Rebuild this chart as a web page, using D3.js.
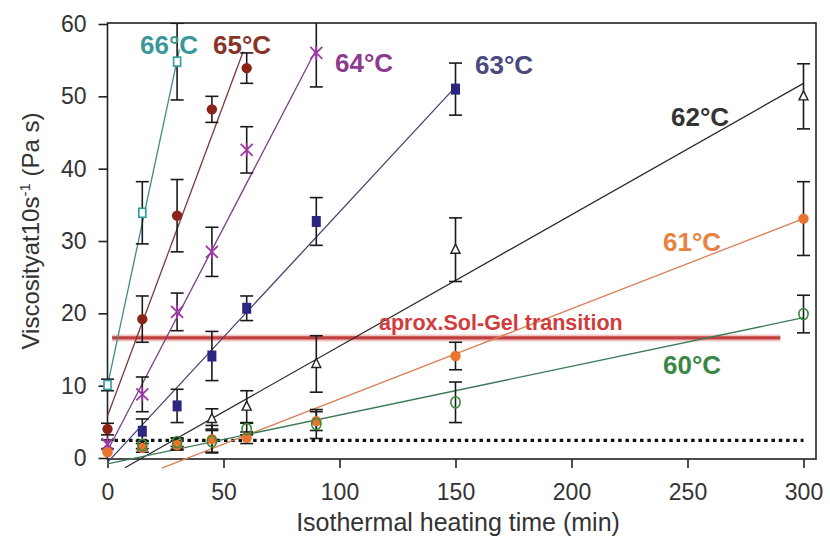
<!DOCTYPE html>
<html>
<head>
<meta charset="utf-8">
<script src="https://cdn.jsdelivr.net/npm/d3@7"></script>
<style>
  body { margin: 0; background: #fff; }
  svg { display: block; }
</style>
</head>
<body>
<svg id="chart" width="830" height="545"></svg>
<script>
// Viscosity at 10 s^-1 vs isothermal heating time, one series per holding temperature.
// Values: mean viscosity (Pa s); errors: +/- half-height of the error bar.

const xTicks = [0, 50, 100, 150, 200, 250, 300];
const yTicks = [0, 10, 20, 30, 40, 50, 60];

const t66 = [0, 15, 30];
const v66 = [10.1, 33.9, 54.8];
const e66 = [0.8, 4.3, 5.3];

const t65 = [0, 15, 30, 45, 60];
const v65 = [4.0, 19.2, 33.5, 48.2, 53.9];
const e65 = [0.8, 3.2, 5.0, 1.8, 2.1];

const t64 = [0, 15, 30, 45, 60, 90];
const v64 = [1.9, 8.8, 20.2, 28.5, 42.6, 56.0];
const e64 = [0.6, 2.4, 2.6, 3.4, 3.2, 4.7];

const t63 = [15, 30, 45, 60, 90, 150];
const v63 = [3.7, 7.2, 14.1, 20.7, 32.7, 51.0];
const e63 = [1.7, 2.3, 3.4, 1.7, 3.3, 3.6];

const t62 = [15, 30, 45, 60, 90, 150, 300];
const v62 = [1.6, 1.9, 5.4, 7.1, 13.0, 28.8, 50.0];
const e62 = [0.8, 0.8, 1.4, 2.2, 3.9, 4.4, 4.5];

const t61 = [0, 15, 30, 45, 60, 90, 150, 300];
const v61 = [0.8, 1.4, 1.8, 2.6, 2.8, 5.1, 14.1, 33.1];
const e61 = [0, 0, 0.6, 1.9, 0.8, 1.3, 1.9, 5.1];

const t60 = [15, 30, 45, 60, 90, 150, 300];
const v60 = [1.8, 2.2, 2.3, 4.0, 4.7, 7.7, 19.9];
const e60 = [0.5, 0.6, 1.5, 0.8, 2.0, 2.8, 2.6];

// Linear trend of each series: [tStart, vStart, tEnd, vEnd]
const fit66 = [0, 10.0, 31, 56.5];
const fit65 = [0, 5.8, 58.5, 56.2];
const fit64 = [0, 1.0, 90, 56.5];
const fit63 = [0, -0.6, 150, 51.3];
const fit62 = [7.5, -1.35, 300, 51.8];
const fit61 = [23.4, -1.4, 300, 33.1];
const fit60 = [0, -0.8, 300, 19.4];

const seriesNames = ["66°C", "65°C", "64°C", "63°C", "62°C", "61°C", "60°C"];

// Reference levels
const solGelLevel = 16.6;
const solGelRange = [2, 290];
const solGelText = "aprox.Sol-Gel transition";
const lowLevel = 2.45;
const lowRange = [3, 300];

const xTitle = "Isothermal heating time (min)";

// ---- table built from the arrays above ----
const series = [
  { name: seriesNames[0], t: t66, v: v66, e: e66, fit: fit66, marker: "openSquare", color: "#2a9a9b", line: "#3f8c8c", label: "#3b9899", lx: 140, ly: 45 },
  { name: seriesNames[1], t: t65, v: v65, e: e65, fit: fit65, marker: "dot", color: "#8b2318", line: "#7a3a34", label: "#8a3428", lx: 213, ly: 45 },
  { name: seriesNames[2], t: t64, v: v64, e: e64, fit: fit64, marker: "cross", color: "#9b3aa5", line: "#7a3f80", label: "#8e3a8e", lx: 335, ly: 63 },
  { name: seriesNames[3], t: t63, v: v63, e: e63, fit: fit63, marker: "square", color: "#2a2682", line: "#454470", label: "#4b4a7c", lx: 475, ly: 65 },
  { name: seriesNames[4], t: t62, v: v62, e: e62, fit: fit62, marker: "openTriangle", color: "#222", line: "#2a2a2a", label: "#333", lx: 671, ly: 117 },
  { name: seriesNames[5], t: t61, v: v61, e: e61, fit: fit61, marker: "dot", color: "#e8742e", line: "#d8825a", label: "#e8823e", lx: 663, ly: 242 },
  { name: seriesNames[6], t: t60, v: v60, e: e60, fit: fit60, marker: "openCircle", color: "#3b8a3b", line: "#3c7a56", label: "#3a8848", lx: 663, ly: 365 }
];

const svg = d3.select("#chart");
const font = "'Liberation Sans', Arial, sans-serif";

const x = d3.scaleLinear().domain([0, 300]).range([107.5, 803.5]);
const y = d3.scaleLinear().domain([0, 60]).range([458, 24]);

const frame = { left: x(0), right: 816, top: 23, bottom: 459 };

svg.append("defs").append("clipPath").attr("id", "plotClip")
  .append("rect")
  .attr("x", 90).attr("y", frame.top)
  .attr("width", frame.right - 90).attr("height", 480 - frame.top);

// Axes
const yAxis = d3.axisLeft(y).tickValues(yTicks).tickSize(9).tickPadding(12);
const gy = svg.append("g").attr("transform", `translate(${frame.left},0)`).call(yAxis);
const xAxis = d3.axisBottom(x).tickValues(xTicks).tickSize(9).tickPadding(16);
const gx = svg.append("g").attr("transform", `translate(0,${frame.bottom})`).call(xAxis);
[gx, gy].forEach(g => {
  g.select(".domain").remove();
  g.selectAll(".tick line").attr("stroke", "#222").attr("stroke-width", 1.6);
  g.selectAll(".tick text").attr("fill", "#333").style("font-family", font).style("font-size", "23px");
});

// Frame
svg.append("rect")
  .attr("x", frame.left).attr("y", frame.top)
  .attr("width", frame.right - frame.left).attr("height", frame.bottom - frame.top)
  .attr("fill", "none").attr("stroke", "#222").attr("stroke-width", 1.6);

// Axis titles
const yt = svg.append("text")
  .attr("transform", "translate(39,231) rotate(-90)")
  .attr("text-anchor", "middle")
  .attr("fill", "#333").style("font-family", font).style("font-size", "24px");
yt.append("tspan").text("Viscosityat10s");
yt.append("tspan").attr("dy", -9).style("font-size", "15px").text("-1");
yt.append("tspan").attr("dy", 9).text(" (Pa s)");

svg.append("text")
  .attr("x", 458).attr("y", 531)
  .attr("text-anchor", "middle")
  .attr("fill", "#333").style("font-family", font).style("font-size", "25px")
  .text(xTitle);

const plot = svg.append("g").attr("clip-path", "url(#plotClip)");

// Low-viscosity reference (dotted)
plot.append("line")
  .attr("x1", x(lowRange[0])).attr("x2", x(lowRange[1]))
  .attr("y1", y(lowLevel)).attr("y2", y(lowLevel))
  .attr("stroke", "#111").attr("stroke-width", 3.2)
  .attr("stroke-dasharray", "3.5,3.8");

// Sol-gel transition band
plot.append("line")
  .attr("x1", x(solGelRange[0])).attr("x2", x(solGelRange[1]))
  .attr("y1", y(solGelLevel)).attr("y2", y(solGelLevel))
  .attr("stroke", "#f2c4c4").attr("stroke-width", 7);
plot.append("line")
  .attr("x1", x(solGelRange[0])).attr("x2", x(solGelRange[1]))
  .attr("y1", y(solGelLevel)).attr("y2", y(solGelLevel))
  .attr("stroke", "#c0403f").attr("stroke-width", 3.2);

// Trend lines
series.forEach(s => {
  plot.append("line")
    .attr("x1", x(s.fit[0])).attr("y1", y(s.fit[1]))
    .attr("x2", x(s.fit[2])).attr("y2", y(s.fit[3]))
    .attr("stroke", s.line).attr("stroke-width", 1.3);
});

// Error bars
const cap = 6.5;
series.forEach(s => {
  s.t.forEach((t, i) => {
    const e = s.e[i];
    if (!e) return;
    const cx = x(t), y1 = y(s.v[i] + e), y2 = y(s.v[i] - e);
    const g = plot.append("g").attr("stroke", "#1a1a1a").attr("stroke-width", 1.6);
    g.append("line").attr("x1", cx).attr("x2", cx).attr("y1", y1).attr("y2", y2);
    g.append("line").attr("x1", cx - cap).attr("x2", cx + cap).attr("y1", y1).attr("y2", y1);
    g.append("line").attr("x1", cx - cap).attr("x2", cx + cap).attr("y1", y2).attr("y2", y2);
  });
});

// Markers
function drawMarker(g, type, color, cx, cy) {
  switch (type) {
    case "openSquare":
      g.append("rect").attr("x", cx - 3.5).attr("y", cy - 4.5).attr("width", 7).attr("height", 9)
        .attr("fill", "#fff").attr("stroke", color).attr("stroke-width", 1.6);
      break;
    case "square":
      g.append("rect").attr("x", cx - 4.5).attr("y", cy - 5.5).attr("width", 9).attr("height", 11)
        .attr("fill", color);
      break;
    case "dot":
      g.append("circle").attr("cx", cx).attr("cy", cy).attr("r", 5.2).attr("fill", color);
      break;
    case "openCircle":
      g.append("ellipse").attr("cx", cx).attr("cy", cy).attr("rx", 4.6).attr("ry", 5.6)
        .attr("fill", "none").attr("stroke", color).attr("stroke-width", 1.6);
      break;
    case "openTriangle":
      g.append("path").attr("d", `M${cx},${cy - 5.5}L${cx + 4.5},${cy + 3.5}L${cx - 4.5},${cy + 3.5}Z`)
        .attr("fill", "#fff").attr("stroke", color).attr("stroke-width", 1.4);
      break;
    case "cross":
      g.append("path").attr("d", `M${cx - 6},${cy - 6}L${cx + 6},${cy + 6}M${cx + 6},${cy - 6}L${cx - 6},${cy + 6}M${cx},${cy - 7}L${cx},${cy + 7}`)
        .attr("fill", "none").attr("stroke", color).attr("stroke-width", 1.8);
      break;
  }
}
series.forEach(s => {
  const g = plot.append("g");
  s.t.forEach((t, i) => drawMarker(g, s.marker, s.color, x(t), y(s.v[i])));
});

// Labels
svg.append("text")
  .attr("x", 379).attr("y", y(solGelLevel) - 8)
  .attr("fill", "#d03c3c").style("font-family", font).style("font-size", "21.5px")
  .style("font-weight", "bold")
  .text(solGelText);

series.forEach(s => {
  svg.append("text")
    .attr("x", s.lx).attr("y", s.ly).attr("dy", "0.36em")
    .attr("fill", s.label).style("font-family", font).style("font-size", "26px")
    .style("font-weight", "bold")
    .text(s.name);
});
</script>
</body>
</html>
